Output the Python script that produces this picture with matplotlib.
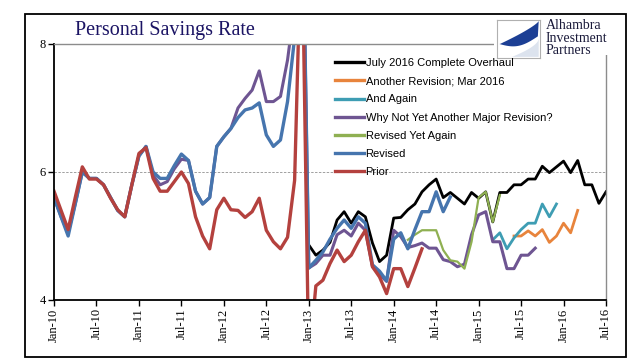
import matplotlib
matplotlib.use("Agg")
import matplotlib.pyplot as plt
from matplotlib.patches import Rectangle, Polygon
import numpy as np

# x tick labels, one every 6 months (month index 0 = Jan-10)
tick_labels = ['Jan-10', 'Jul-10', 'Jan-11', 'Jul-11', 'Jan-12', 'Jul-12', 'Jan-13',
               'Jul-13', 'Jan-14', 'Jul-14', 'Jan-15', 'Jul-15', 'Jan-16', 'Jul-16']

# each vintage: first month index + monthly values
overhaul_start = 36
overhaul = [4.86, 4.70, 4.78, 4.90, 5.25, 5.38, 5.20, 5.38, 5.30, 4.89, 4.60, 4.70,
            5.28, 5.29, 5.41, 5.50, 5.69, 5.80, 5.89, 5.60, 5.68, 5.59, 5.50, 5.68,
            5.59, 5.69, 5.22, 5.68, 5.68, 5.80, 5.80, 5.89, 5.89, 6.09, 5.99, 6.08,
            6.17, 5.99, 6.18, 5.80, 5.80, 5.51, 5.69]

mar16_start = 65
mar16 = [5.00, 5.00, 5.08, 5.00, 5.10, 4.90, 5.00, 5.20, 5.05, 5.40]

again_start = 62
again = [4.94, 5.05, 4.80, 4.97, 5.10, 5.20, 5.20, 5.50, 5.30, 5.50]

whynot_start = 0
whynot = [5.60, 5.30, 5.05, 5.50, 6.00, 5.90, 5.90, 5.80, 5.60, 5.40, 5.30, 5.80,
          6.25, 6.40, 5.95, 5.80, 5.85, 6.05, 6.20, 6.18, 5.70, 5.50, 5.60, 6.40,
          6.55, 6.68, 7.00, 7.15, 7.28, 7.58, 7.10, 7.10, 7.18, 7.75, 8.60, 11.0,
          4.50, 4.57, 4.70, 4.70, 5.02, 5.09, 5.00, 5.20, 5.09, 4.52, 4.40, 4.29,
          5.09, 4.99, 4.82, 4.85, 4.89, 4.81, 4.81, 4.63, 4.60, 4.52, 4.56, 5.02,
          5.33, 5.38, 4.91, 4.91, 4.49, 4.49, 4.70, 4.70, 4.81]

yet_again_start = 50
yet_again = [4.94, 5.02, 5.09, 5.09, 5.09, 4.78, 4.62, 4.60, 4.49, 4.91, 5.60, 5.69,
             5.22, 5.64]

revised_start = 0
revised = [5.60, 5.30, 5.00, 5.50, 6.00, 5.90, 5.90, 5.80, 5.60, 5.40, 5.30, 5.80,
           6.25, 6.40, 6.00, 5.90, 5.90, 6.10, 6.28, 6.18, 5.70, 5.50, 5.60, 6.40,
           6.55, 6.68, 6.85, 6.97, 7.00, 7.08, 6.58, 6.40, 6.50, 7.10, 8.10, 11.0,
           4.50, 4.62, 4.75, 4.95, 5.12, 5.25, 5.12, 5.30, 5.20, 4.55, 4.45, 4.30,
           4.95, 5.05, 4.80, 5.10, 5.38, 5.38, 5.69, 5.38, 5.61]

prior_start = 0
prior = [5.70, 5.40, 5.10, 5.60, 6.08, 5.89, 5.89, 5.80, 5.59, 5.41, 5.30, 5.80,
         6.29, 6.38, 5.90, 5.70, 5.70, 5.85, 6.00, 5.82, 5.30, 5.00, 4.80, 5.41,
         5.59, 5.41, 5.40, 5.29, 5.38, 5.59, 5.09, 4.91, 4.80, 4.98, 5.87, 10.0,
         3.00, 4.22, 4.31, 4.57, 4.78, 4.60, 4.70, 4.91, 5.09, 4.52, 4.36, 4.10,
         4.49, 4.49, 4.21, 4.50, 4.80]

series = [
    ('July 2016 Complete Overhaul', overhaul_start, overhaul),
    ('Another Revision; Mar 2016', mar16_start, mar16),
    ('And Again', again_start, again),
    ('Why Not Yet Another Major Revision?', whynot_start, whynot),
    ('Revised Yet Again', yet_again_start, yet_again),
    ('Revised', revised_start, revised),
    ('Prior', prior_start, prior),
]
colors = ['#000000', '#E8843C', '#3E9DB3', '#6E5592', '#8FB052', '#4675AE', '#B4413E']
widths = [2.0, 2.0, 2.0, 2.2, 1.6, 2.4, 2.4]

fig = plt.figure(figsize=(6.41, 3.58), dpi=100)
W, H = 641.0, 358.0
ax = fig.add_axes([54 / W, 1 - 300 / H, 552 / W, 256 / H])

for (label, start, vals), c, lw in zip(series, colors, widths):
    x = np.arange(start, start + len(vals))
    ax.plot(x, vals, color=c, lw=lw, label=label, solid_joinstyle='round')

ax.set_xlim(0, 78)
ax.set_ylim(4, 8)
ax.set_yticks([4, 6, 8])
ax.set_xticks(np.arange(0, 79, 6))
ax.set_xticklabels(tick_labels, rotation=90)
for t in ax.get_xticklabels() + ax.get_yticklabels():
    t.set_family('Liberation Serif')
    t.set_fontsize(9)
ax.tick_params(axis='both', direction='out', length=4, width=1, color='black', pad=2)
ax.axhline(6, color='#A0A0A0', lw=0.7, ls=(0, (2.5, 1.5)), zorder=0)

for s in ['left', 'bottom']:
    ax.spines[s].set_color('black')
    ax.spines[s].set_linewidth(1.3)
for s in ['top', 'right']:
    ax.spines[s].set_color('#8C8C8C')
    ax.spines[s].set_linewidth(1.0)

# title
fig.text(75 / W, 1 - 30 / H, 'Personal Savings Rate', family='Liberation Serif',
         fontsize=14.5, color='#1B1464', va='center', ha='left')

# white block behind the logo, hides the plot border there
fig.add_artist(Rectangle((494 / W, 1 - 55 / H), 125 / W, 39 / H,
                         transform=fig.transFigure, facecolor='white',
                         edgecolor='none', zorder=5))

handles, labels = ax.get_legend_handles_labels()
leg = fig.legend(handles, labels, loc='upper left', bbox_to_anchor=(335 / W, 1 - 58 / H),
                 frameon=False, prop={'family': 'Liberation Sans', 'size': 8},
                 handlelength=2.6, handletextpad=0.15, labelspacing=0.74,
                 borderpad=0, borderaxespad=0)
leg.set_zorder(9)
for h in leg.get_lines():
    h.set_linewidth(2.4)

# logo icon
lax = fig.add_axes([497 / W, 1 - 58 / H, 43 / W, 38 / H], zorder=6)
lax.set_xlim(0, 1)
lax.set_ylim(0, 1)
lax.set_xticks([])
lax.set_yticks([])
for s in lax.spines.values():
    s.set_color('#B0B0B0')
    s.set_linewidth(0.8)
t = np.linspace(0, 1, 30)
upper = [(0.97, 0.97)] + [(0.97 - 0.9 * u, 0.97 - 0.6 * u ** 0.8) for u in t]
lower = [(0.05 + 0.9 * u, 0.37 - 0.15 * np.sin(np.pi * u) + 0.2 * u) for u in t]
lax.add_patch(Polygon(upper + lower, closed=True, facecolor='#1C3F94', edgecolor='none'))
lax.add_patch(Polygon([(0.35, 0.03), (0.97, 0.03), (0.97, 0.5)] +
                      [(0.97 - 0.62 * u, 0.5 - 0.47 * u ** 0.6) for u in t],
                      closed=True, facecolor='#DCE3EE', edgecolor='none'))

fig.text(546 / W, 1 - 19 / H, 'Alhambra\nInvestment\nPartners', family='Liberation Serif',
         fontsize=10, color='#1A1A3A', va='top', ha='left', linespacing=0.95, zorder=7)

# outer frame
fig.add_artist(Rectangle((25 / W, 1 / H), 601 / W, 343 / H, transform=fig.transFigure,
                         fill=False, edgecolor='black', lw=1.3, zorder=8))

fig.savefig('out.png', dpi=100)
